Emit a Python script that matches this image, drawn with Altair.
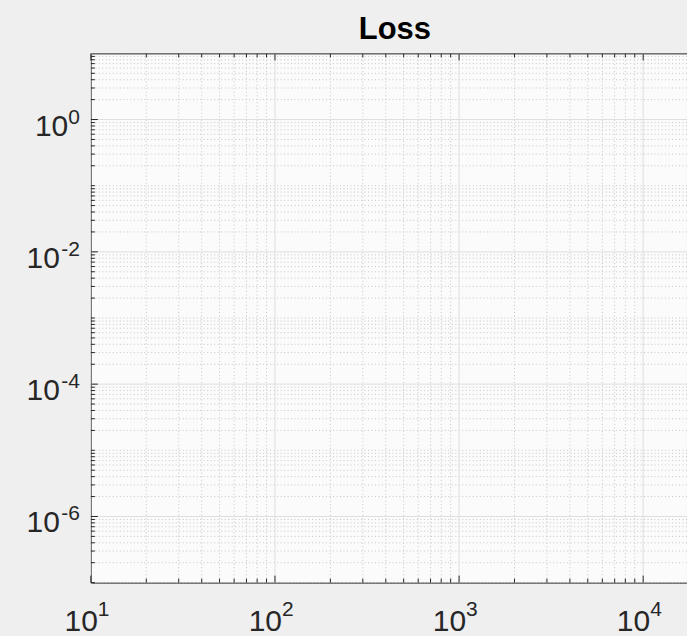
import altair as alt
import pandas as pd

# ---- data (axis structure of an empty log-log "Loss" plot) ----
x_major = [10, 100, 1000, 10000]
x_exponents = ["1", "2", "3", "4"]
y_major = [1e-6, 1e-4, 1e-2, 1.0]
y_exponents = ["-6", "-4", "-2", "0"]
label_base = "10"
x_decades = [10, 100, 1000, 10000]
y_decades = [1e-7, 1e-6, 1e-5, 1e-4, 1e-3, 1e-2, 1e-1, 1.0]
multipliers = [2, 3, 4, 5, 6, 7, 8, 9]
x_domain = [10, 17300]
y_domain = [1e-7, 10]

x_minor = [d * m for d in x_decades for m in multipliers if d * m < x_domain[1]]
y_minor = sorted([d * m for d in y_decades for m in multipliers] +
                 [d for d in y_decades if d not in y_major])

W, H = 597, 530
FONT = "Liberation Sans"
AX = "#262626"
MAJOR_GRID = "#dedede"
MINOR_GRID = "#c6c6c6"
BASE_FS = 30
EXP_FS = 21

xscale = alt.Scale(type="log", domain=x_domain, nice=False)
yscale = alt.Scale(type="log", domain=y_domain, nice=False)


def X():
    return alt.X("x:Q", scale=xscale, axis=None)


def Y():
    return alt.Y("y:Q", scale=yscale, axis=None)


dfx_minor = pd.DataFrame({"x": x_minor})
dfx_major = pd.DataFrame({"x": x_major})
dfy_minor = pd.DataFrame({"y": y_minor})
dfy_major = pd.DataFrame({"y": y_major})
dfx_lab = pd.DataFrame({"x": x_major, "base": [label_base] * len(x_major), "exp": x_exponents})
dfy_lab = pd.DataFrame({"y": y_major, "base": [label_base] * len(y_major), "exp": y_exponents})

# width of the exponent string (Helvetica-like metrics) so the whole label right-aligns
exp_width = (f"{0.556 * EXP_FS}*length(replace(datum.exp,'-','')) + "
             f"{0.40 * EXP_FS}*(indexof(datum.exp,'-')>=0 ? 1 : 0)")

layers = [
    # minor grid (dotted)
    alt.Chart(dfx_minor).mark_rule(color=MINOR_GRID, strokeDash=[1, 2.5], strokeWidth=1).encode(x=X()),
    alt.Chart(dfy_minor).mark_rule(color=MINOR_GRID, strokeDash=[1, 2.5], strokeWidth=1).encode(y=Y()),
    # major grid (solid)
    alt.Chart(dfx_major).mark_rule(color=MAJOR_GRID, strokeWidth=1).encode(x=X()),
    alt.Chart(dfy_major).mark_rule(color=MAJOR_GRID, strokeWidth=1).encode(y=Y()),
    # inward ticks: bottom and top
    alt.Chart(dfx_minor).mark_rule(color=AX, strokeWidth=1).encode(x=X(), y=alt.value(H), y2=alt.value(H - 4)),
    alt.Chart(dfx_minor).mark_rule(color=AX, strokeWidth=1).encode(x=X(), y=alt.value(0), y2=alt.value(4)),
    alt.Chart(dfx_major).mark_rule(color=AX, strokeWidth=1).encode(x=X(), y=alt.value(H), y2=alt.value(H - 7)),
    alt.Chart(dfx_major).mark_rule(color=AX, strokeWidth=1).encode(x=X(), y=alt.value(0), y2=alt.value(7)),
    # inward ticks: left
    alt.Chart(dfy_minor).mark_rule(color=AX, strokeWidth=1).encode(y=Y(), x=alt.value(0), x2=alt.value(4)),
    alt.Chart(dfy_major).mark_rule(color=AX, strokeWidth=1).encode(y=Y(), x=alt.value(0), x2=alt.value(7)),
    # x tick labels: "10" + raised exponent
    alt.Chart(dfx_lab).mark_text(font=FONT, fontSize=BASE_FS, color=AX, align="right",
                                 baseline="alphabetic", dx=7).encode(
        x=X(), y=alt.value(H + 48), text="base:N"),
    alt.Chart(dfx_lab).mark_text(font=FONT, fontSize=EXP_FS, color=AX, align="left",
                                 baseline="alphabetic", dx=7).encode(
        x=X(), y=alt.value(H + 33), text="exp:N"),
    # y tick labels: exponent right-aligned, "10" to its left
    alt.Chart(dfy_lab).mark_text(font=FONT, fontSize=EXP_FS, color=AX, align="right",
                                 baseline="alphabetic", dy=4).encode(
        y=Y(), x=alt.value(-11), text="exp:N"),
    alt.Chart(dfy_lab).transform_calculate(off="-(" + exp_width + ")").mark_text(
        font=FONT, fontSize=BASE_FS, color=AX, align="right", baseline="alphabetic", dy=16).encode(
        y=Y(), x=alt.value(-11), xOffset=alt.XOffset("off:Q", scale=None), text="base:N"),
]

chart = alt.layer(*layers).properties(
    width=W, height=H,
    title=alt.TitleParams("Loss", font=FONT, fontSize=31, fontWeight="bold",
                          color="#000000", offset=7, dx=6),
    autosize=alt.AutoSizeParams(type="none"),
    padding={"left": 91, "top": 53, "right": 0, "bottom": 53},
    background="#efefef",
).configure_view(
    fill="#fbfbfb", stroke=AX, strokeWidth=1,
)

chart.save("out.html", embed_options={"renderer": "svg", "actions": False})
